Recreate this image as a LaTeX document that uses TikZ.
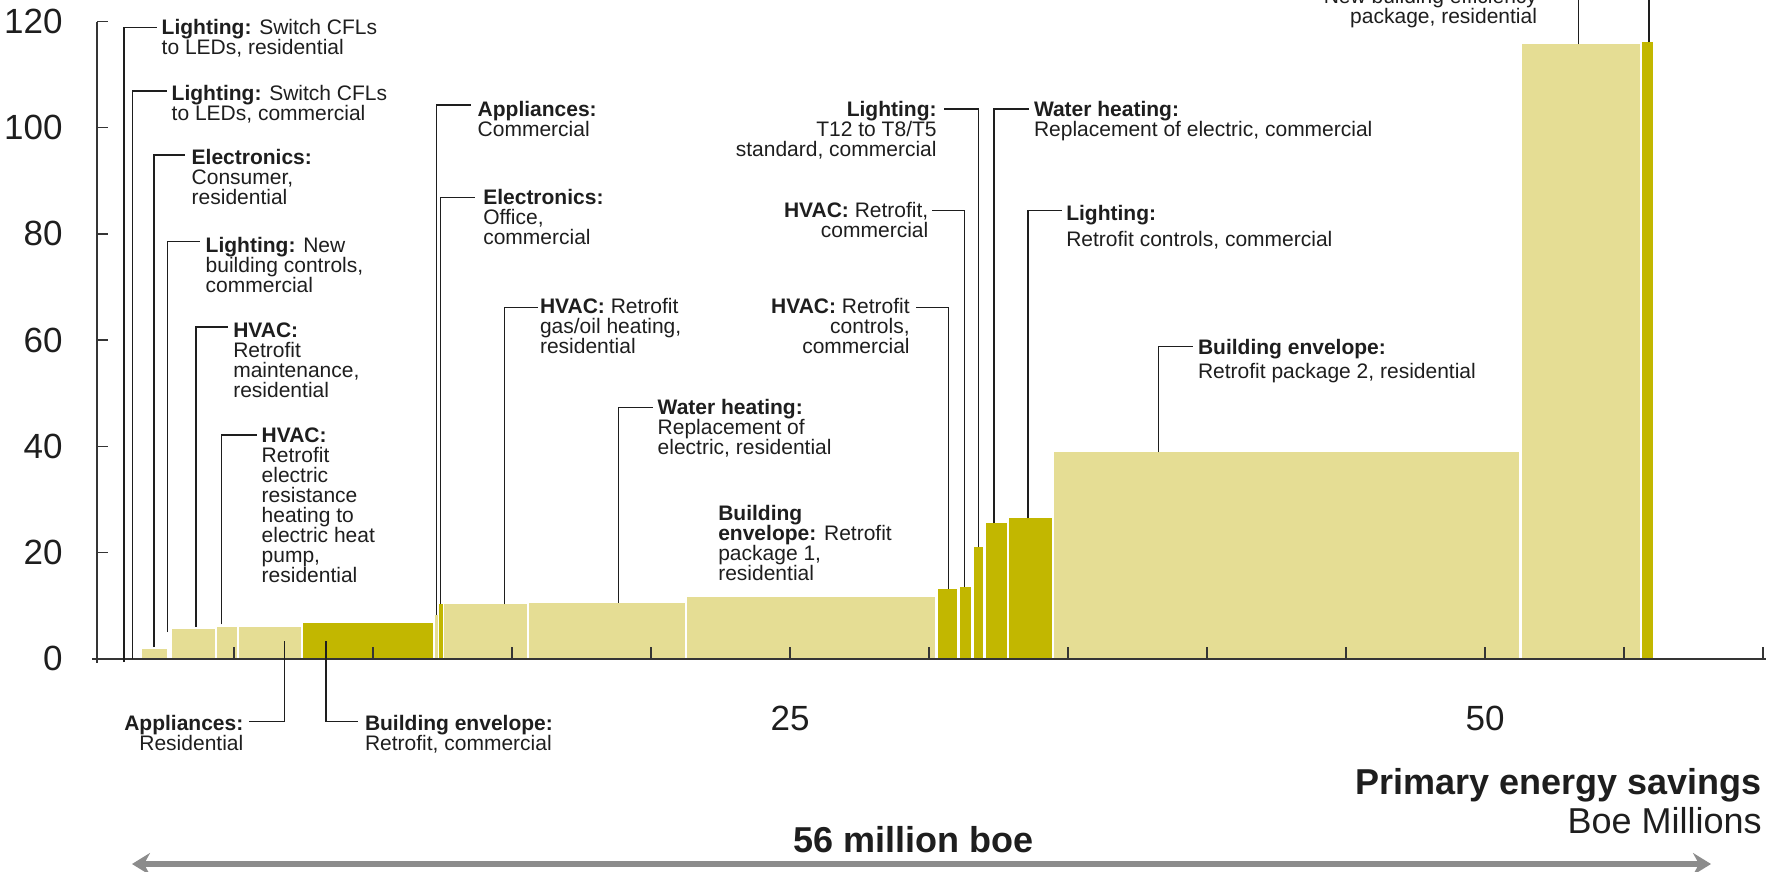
\documentclass[tikz,border=0pt]{standalone}
\usepackage{fontspec}
\setmainfont{Liberation Sans}
\usetikzlibrary{arrows.meta}
\definecolor{barlight}{RGB}{229,221,148}
\definecolor{bardark}{RGB}{194,183,0}
\definecolor{ink}{RGB}{30,30,30}
\definecolor{arrowgray}{RGB}{140,140,140}
\newcommand\labfont{\fontsize{10.5}{10}\selectfont}
\newcommand\axfont{\fontsize{17.5}{20}\selectfont}
\newcommand\bigfont{\fontsize{18}{20}\selectfont}
\tikzset{
  lab/.style={inner sep=0pt, outer sep=0pt, align=left, anchor=north west, font=\labfont, text=ink},
  labr/.style={lab, align=right, anchor=north east},
  leader/.style={draw=ink, line width=0.75pt},
  axisline/.style={draw=ink!90, line width=0.8pt},
  lightbar/.style={fill=barlight},
  darkbar/.style={fill=bardark},
  axlab/.style={inner sep=0pt, font=\axfont, text=ink},
}
\begin{document}
\begin{tikzpicture}[x=0.5pt,y=-0.5pt]
\useasboundingbox (0,0) rectangle (1777,872);
\clip (0,0) rectangle (1777,872);
% ---------- bars ----------
\def\ax{658.7}
\fill[lightbar] (141.7,\ax) rectangle (166.7,649);
\fill[lightbar] (171.7,\ax) rectangle (215,629);
\fill[lightbar] (217.3,\ax) rectangle (236.7,626.5);
\fill[lightbar] (239.3,\ax) rectangle (301,626.5);
\fill[darkbar]  (303.3,\ax) rectangle (433,622.5);
\fill[lightbar] (435,\ax) rectangle (438,615);
\fill[darkbar]  (439,\ax) rectangle (442.7,604);
\fill[lightbar] (444.3,\ax) rectangle (527,604.3);
\fill[lightbar] (529.3,\ax) rectangle (685,602.7);
\fill[lightbar] (687.3,\ax) rectangle (935,596.7);
\fill[darkbar]  (937.7,\ax) rectangle (957.3,588.5);
\fill[darkbar]  (960,\ax) rectangle (971.3,586.5);
\fill[darkbar]  (973.5,\ax) rectangle (983.3,546.5);
\fill[darkbar]  (985.5,\ax) rectangle (1007.3,522.5);
\fill[darkbar]  (1009.3,\ax) rectangle (1051.7,518.3);
\fill[lightbar] (1053.7,\ax) rectangle (1519.3,452.3);
\fill[lightbar] (1521.5,\ax) rectangle (1640,44.4);
\fill[darkbar]  (1642,\ax) rectangle (1653,42.4);
% ---------- axes ----------
\coordinate (ytop) at (97,22.3);
\coordinate (ybot) at (97,663);
\coordinate (xl) at (92,\ax);
\coordinate (xr) at (1766,\ax);
\draw[axisline] (ytop) -- (ybot);
\draw[axisline] (xl) -- (xr);
\foreach \v/\t in {0/0,20/20,40/40,60/60,80/80,100/100,120/120}{
  \pgfmathsetmacro{\yy}{658.7-5.31*\v}
  \draw[axisline] (97,\yy) -- (108,\yy);
  \node[axlab, anchor=east] (y\v) at (63,\yy) {\t};
}
\foreach \u in {5,10,...,60}{
  \pgfmathsetmacro{\xx}{95+27.8*\u}
  \draw[axisline] (\xx,\ax) -- (\xx,646.7);
}
\node[axlab] (x25) at (790,718) {25};
\node[axlab] (x50) at (1485,718) {50};
\node[inner sep=0pt, font=\bigfont\bfseries, text=ink, anchor=base east] (xt) at (1762,794) {Primary energy savings};
\node[inner sep=0pt, font=\bigfont, text=ink, anchor=base east] (xu) at (1762,833) {Boe Millions};
\node[inner sep=0pt, font=\bigfont\bfseries, text=ink, anchor=base] (tot) at (913.5,852) {56 million boe};
\coordinate (arL) at (132,864);
\coordinate (arR) at (1711,864);
\draw[arrowgray, line width=3pt, {Stealth[length=9pt,width=11pt,inset=3pt]}-{Stealth[length=9pt,width=11pt,inset=3pt]}] (arL) -- (arR);
% ---------- labels ----------
\node[lab] (l1) at (161.7,19.3) {\textbf{Lighting:} Switch CFLs\\to LEDs, residential};
\coordinate (b1) at (124,662); \coordinate (e1) at (156.7,27.3);
\draw[leader] (b1) |- (e1);

\node[lab] (l2) at (171.7,85) {\textbf{Lighting:} Switch CFLs\\to LEDs, commercial};
\coordinate (b2) at (132.3,\ax); \coordinate (e2) at (166.7,91);
\draw[leader] (b2) |- (e2);

\node[lab] (l3) at (191.7,149) {\textbf{Electronics:}\\Consumer,\\residential};
\coordinate (b3) at (154,647); \coordinate (e3) at (185,155);
\draw[leader] (b3) |- (e3);

\node[lab] (l4) at (205.7,237.3) {\textbf{Lighting:} New\\building controls,\\commercial};
\coordinate (b4) at (167.7,632); \coordinate (e4) at (200,241.5);
\draw[leader] (b4) |- (e4);

\node[lab] (l5) at (233.3,322.7) {\textbf{HVAC:}\\Retrofit\\maintenance,\\residential};
\coordinate (b5) at (196,626.5); \coordinate (e5) at (228.3,327);
\draw[leader] (b5) |- (e5);

\node[lab] (l6) at (261.7,428.3) {\textbf{HVAC:}\\Retrofit\\electric\\resistance\\heating to\\electric heat\\pump,\\residential};
\coordinate (b6) at (221.7,624.3); \coordinate (e6) at (256.7,435);
\draw[leader] (b6) |- (e6);

\node[labr] (l7) at (243.3,715) {\textbf{Appliances:}\\Residential};
\coordinate (b7) at (284.3,641); \coordinate (e7) at (249.3,721.7);
\draw[leader] (b7) |- (e7);

\node[lab] (l8) at (365,715) {\textbf{Building envelope:}\\Retrofit, commercial};
\coordinate (b8) at (326,641); \coordinate (e8) at (358.3,721.7);
\draw[leader] (b8) |- (e8);

\node[lab] (l9) at (477.7,101) {\textbf{Appliances:}\\Commercial};
\coordinate (b9) at (436.5,615); \coordinate (e9) at (471,105);
\draw[leader] (b9) |- (e9);

\node[lab] (l10) at (483.3,189) {\textbf{Electronics:}\\Office,\\commercial};
\coordinate (b10) at (440.7,604); \coordinate (e10) at (475,197.3);
\draw[leader] (b10) |- (e10);

\node[lab] (l11) at (540,298) {\textbf{HVAC:} Retrofit\\gas/oil heating,\\residential};
\coordinate (b11) at (504.3,604.3); \coordinate (e11) at (538.3,307.7);
\draw[leader] (b11) |- (e11);

\node[lab] (l12) at (657.7,399) {\textbf{Water heating:}\\Replacement of\\electric, residential};
\coordinate (b12) at (618.3,602.7); \coordinate (e12) at (652.7,407.3);
\draw[leader] (b12) |- (e12);

\node[lab] (l13) at (718.3,505) {\textbf{Building}\\\textbf{envelope:} Retrofit\\package 1,\\residential};

\node[labr] (l14) at (936.6,101) {\textbf{Lighting:}\\T12 to T8/T5\\standard, commercial};
\coordinate (b14) at (978.7,546.5); \coordinate (e14) at (944,109);
\draw[leader] (b14) |- (e14);

\node[labr] (l15) at (928.3,202.3) {\textbf{HVAC:} Retrofit,\\commercial};
\coordinate (b15) at (964.3,586.5); \coordinate (e15) at (932.4,210.7);
\draw[leader] (b15) |- (e15);

\node[labr] (l16) at (909.6,298.3) {\textbf{HVAC:} Retrofit\\controls,\\commercial};
\coordinate (b16) at (948.3,588.5); \coordinate (e16) at (915.8,307.7);
\draw[leader] (b16) |- (e16);

\node[lab] (l17) at (1034,101) {\textbf{Water heating:}\\Replacement of electric, commercial};
\coordinate (b17) at (994,522.5); \coordinate (e17) at (1029,109);
\draw[leader] (b17) |- (e17);

\node[lab] (l18) at (1066.3,205) {\textbf{Lighting:}\\[3.3pt]Retrofit controls, commercial};
\coordinate (b18) at (1028,518.3); \coordinate (e18) at (1061.8,210.7);
\draw[leader] (b18) |- (e18);

\node[lab] (l19) at (1198,339) {\textbf{Building envelope:}\\[2pt]Retrofit package 2, residential};
\coordinate (b19) at (1158.6,452.3); \coordinate (e19) at (1193,346.7);
\draw[leader] (b19) |- (e19);

\node[labr] (l20) at (1537,-32) {\textbf{Building envelope:}\\New building efficiency\\package, residential};
\coordinate (b20) at (1578.7,44.4); \coordinate (e20) at (1545,-24);
\draw[leader] (b20) |- (e20);
\coordinate (b21) at (1649,42.4); \coordinate (e21) at (1649,-10);
\draw[leader] (b21) -- (e21);
\end{tikzpicture}
\end{document}
